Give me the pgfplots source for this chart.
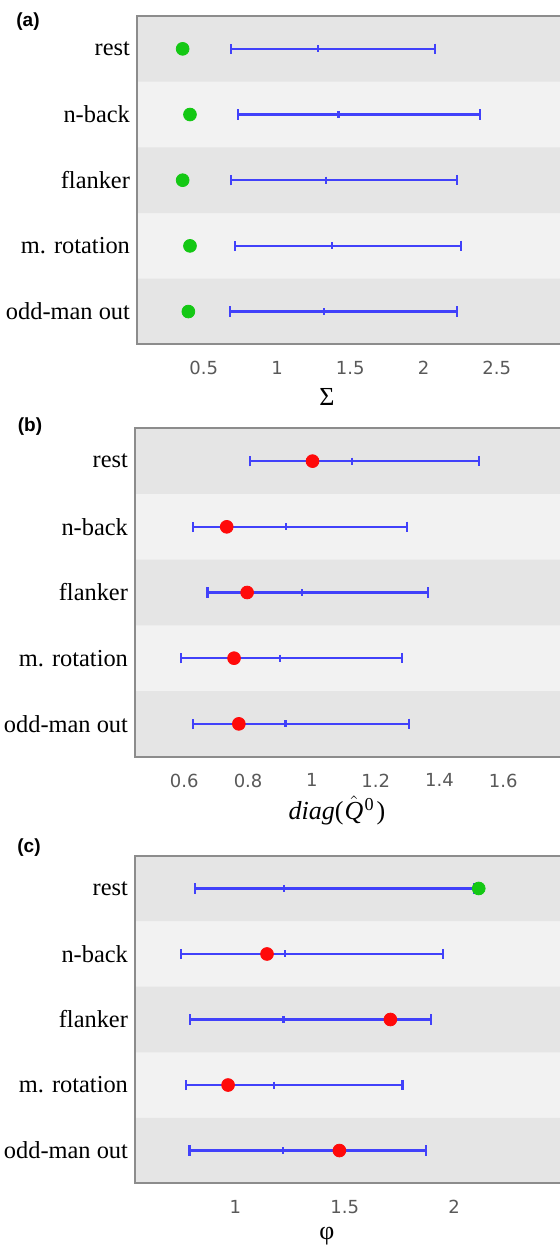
\documentclass[border=0pt]{standalone}
\usepackage{fontspec}
\setmainfont{Liberation Serif}
\newfontfamily\dejavu{DejaVu Sans}
\newfontfamily\arialf{Liberation Sans}
\usepackage{pgfplots}
\usepackage{pgfplotstable}
\pgfplotsset{compat=1.18}
\definecolor{barblue}{RGB}{65,65,250}
\definecolor{dotgreen}{RGB}{20,200,20}
\definecolor{dotred}{RGB}{255,10,10}
\definecolor{banddark}{RGB}{229,229,229}
\definecolor{bandlight}{RGB}{242,242,242}

\pgfplotstableread{
y lo mid hi dot
4 0.684 1.282 2.081 0.356
3 0.736 1.419 2.388 0.406
2 0.684 1.332 2.227 0.356
1 0.711 1.373 2.256 0.406
0 0.679 1.321 2.231 0.395
}\tabA
\pgfplotstableread{
y lo mid hi dot
4 0.805 1.125 1.523 1.002
3 0.628 0.920 1.299 0.733
2 0.673 0.970 1.364 0.797
1 0.589 0.900 1.283 0.756
0 0.628 0.917 1.304 0.771
}\tabB
\pgfplotstableread{
y lo mid hi
4 0.816 1.223 2.091
3 0.750 1.227 1.951
2 0.794 1.220 1.893
1 0.773 1.176 1.764
0 0.791 1.217 1.872
}\tabC
\pgfplotstableread{
y dot
3 1.145
2 1.709
1 0.967
0 1.476
}\tabCred

\pgfplotsset{
  panel/.style={
    scale only axis, anchor=north west,
    ymin=-0.5, ymax=4.5,
    ytick={0,1,2,3,4},
    yticklabels={odd-man out, m. rotation, flanker, n-back, rest},
    major tick length=0pt,
    axis background/.style={fill=bandlight},
    axis line style={draw=black!45, line width=1pt},
    /pgf/number format/assume math mode=true,
    xticklabel style={font=\dejavu\fontsize{9pt}{10pt}\selectfont, text=black!65, yshift=-5pt},
    yticklabel style={font=\fontsize{12.2pt}{14pt}\selectfont},
    axis on top,
    xlabel style={anchor=center, yshift=-26.35pt, font=\fontsize{13pt}{15pt}\selectfont},
  },
  band/.style={xbar, bar width=1, fill=banddark, draw=none, forget plot},
  ebar/.style={only marks, mark=|, color=barblue,
    mark options={line width=1.1pt, mark size=1.75pt},
    error bars/x dir=both, error bars/x explicit,
    error bars/error mark=|,
    error bars/error bar style={line width=1.2pt, color=barblue},
    error bars/error mark options={line width=1.1pt, mark size=2.6pt, color=barblue}},
  dots/.style={only marks, mark=*, mark size=3.2pt},
}

\begin{document}
\begin{tikzpicture}
\path[use as bounding box] (0,0) rectangle (280pt,-623.5pt);
\clip (0,0) rectangle (280pt,-623.5pt);

% (a)
\begin{axis}[panel, at={(68.5pt,-8pt)}, width=221.5pt, height=164.2pt,
  xmin=0.0444, xmax=3.068, xtick={0.5,1,1.5,2,2.5},
  xlabel={Σ}, xlabel style={at={(axis description cs:0.429,0)}}]
\addplot[band] coordinates {(10,0) (10,2) (10,4)};
\addplot[ebar] table[x=mid, y=y,
  x error plus expr=\thisrow{hi}-\thisrow{mid},
  x error minus expr=\thisrow{mid}-\thisrow{lo}] {\tabA};
\addplot[dots, color=dotgreen] table[x=dot, y=y] {\tabA};
\end{axis}

% (b)
\begin{axis}[panel, at={(67.5pt,-214.15pt)}, width=222.5pt, height=164.2pt,
  xmin=0.4455, xmax=1.8405, xtick={0.6,0.8,1,1.2,1.4,1.6},
  xlabel={\textit{diag}(\kern0.5pt$\hat{\textit{Q}}$\kern0.6pt\textsuperscript{0}\kern1pt)},
  xlabel style={at={(axis description cs:0.454,0)}, yshift=-0.3pt}]
\addplot[band] coordinates {(10,0) (10,2) (10,4)};
\addplot[ebar] table[x=mid, y=y,
  x error plus expr=\thisrow{hi}-\thisrow{mid},
  x error minus expr=\thisrow{mid}-\thisrow{lo}] {\tabB};
\addplot[dots, color=dotred] table[x=dot, y=y] {\tabB};
\end{axis}

% (c)
\begin{axis}[panel, at={(67.5pt,-427.85pt)}, width=222.5pt, height=163.8pt,
  xmin=0.5414, xmax=2.576, xtick={1,1.5,2},
  xlabel={φ}, xlabel style={at={(axis description cs:0.431,0)}}]
\addplot[band] coordinates {(10,0) (10,2) (10,4)};
\addplot[ebar] table[x=mid, y=y,
  x error plus expr=\thisrow{hi}-\thisrow{mid},
  x error minus expr=\thisrow{mid}-\thisrow{lo}] {\tabC};
\addplot[dots, color=dotred] table[x=dot, y=y] {\tabCred};
\addplot[dots, color=dotgreen] coordinates {(2.113,4)};
\end{axis}

\node[font=\arialf\bfseries\fontsize{9.5pt}{11pt}\selectfont] at (14pt,-10.85pt) {(a)};
\node[font=\arialf\bfseries\fontsize{9.5pt}{11pt}\selectfont] at (15pt,-213.5pt) {(b)};
\node[font=\arialf\bfseries\fontsize{9.5pt}{11pt}\selectfont] at (14.5pt,-424pt) {(c)};
\end{tikzpicture}
\end{document}
